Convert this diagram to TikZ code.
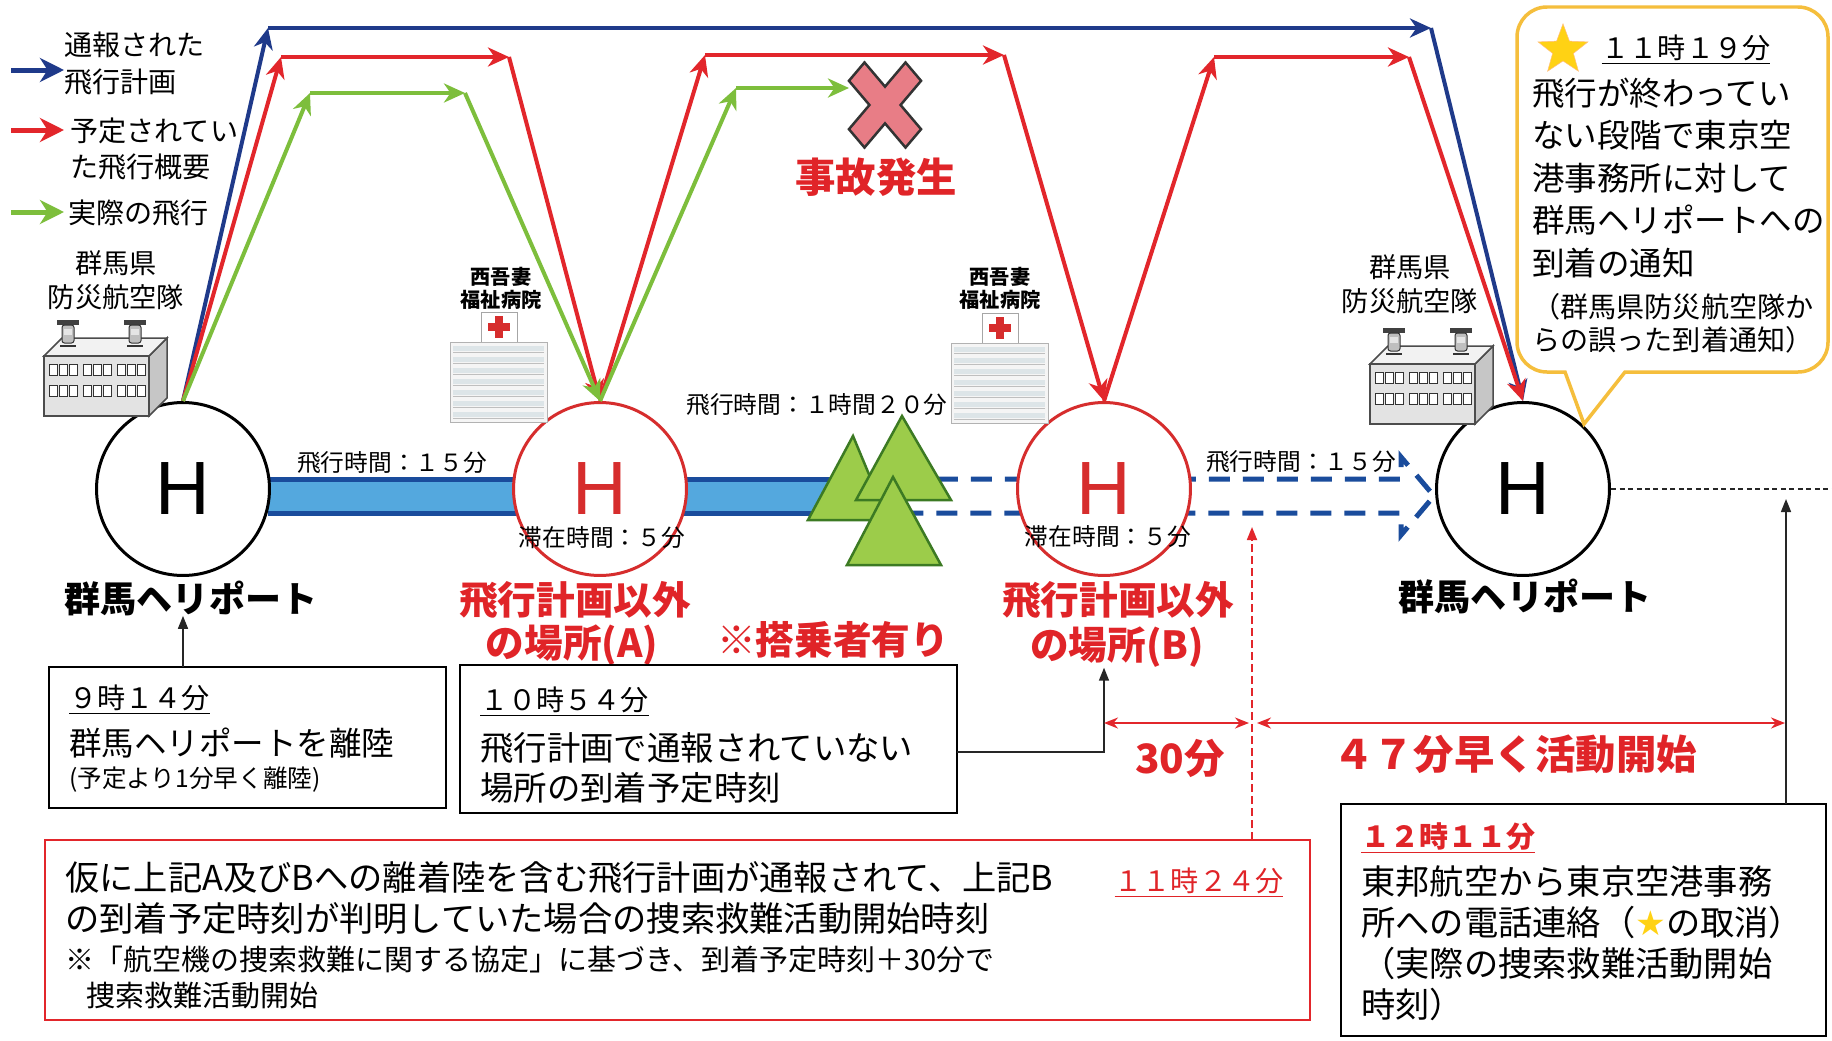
\documentclass[tikz,border=0pt]{standalone}
\usepackage{fontspec}
\setmainfont{Noto Sans CJK JP}
\newfontfamily\hfont{Liberation Sans}
\newfontfamily\symfont{DejaVu Sans}
\usetikzlibrary{arrows.meta,shapes.geometric}

\definecolor{planblue}{RGB}{31,58,138}
\definecolor{schedred}{RGB}{226,38,43}
\definecolor{flowngreen}{RGB}{125,190,60}
\definecolor{bandfill}{RGB}{84,168,222}
\definecolor{bandedge}{RGB}{26,76,156}
\definecolor{treefill}{RGB}{156,204,74}
\definecolor{treeline}{RGB}{60,122,35}
\definecolor{padred}{RGB}{214,45,45}
\definecolor{labelred}{RGB}{224,36,40}
\definecolor{crashpink}{RGB}{232,125,134}
\definecolor{calloutline}{RGB}{245,190,60}
\definecolor{starfill}{RGB}{255,210,20}

\newcommand\fsz[1]{\fontsize{#1}{#1}\selectfont}

\tikzset{
  hq/.pic={
    % side, roof, front
    \draw[black!70, line width=0.03cm, fill=gray!45] (105,0) -- (123,-18) -- (123,42) -- (105,60) -- cycle;
    \draw[black!70, line width=0.03cm, fill=gray!10] (0,0) -- (18,-18) -- (123,-18) -- (105,0) -- cycle;
    \draw[black!70, line width=0.03cm, fill=gray!22] (0,0) rectangle (105,60);
    \foreach \g in {0,1,2}
      \foreach \k in {0,1,2} {
        \draw[black!80, line width=0.02cm, fill=white] (5+\g*34+\k*10,8) rectangle ++(8,11);
        \draw[black!80, line width=0.02cm, fill=white] (5+\g*34+\k*10,29) rectangle ++(8,11);
      }
    % helicopters on the roof
    \foreach \hx in {24,91} {
      \fill[black!75] (\hx-11,-36) rectangle (\hx+11,-31);
      \draw[black!80, line width=0.02cm, fill=gray!50, rounded corners=0.05cm] (\hx-6,-31) rectangle (\hx+6,-13);
      \fill[gray!20] (\hx-4,-27) rectangle (\hx+4,-21);
      \draw[black!80, line width=0.03cm] (\hx-8,-10) -- (\hx+8,-10);
    }
  },
  hospital/.pic={
    \draw[gray!70, line width=0.02cm, fill=white] (31,-30) rectangle (67,0);
    \fill[padred] (45,-26) rectangle (53,-4);
    \fill[padred] (38,-19) rectangle (60,-11);
    \draw[gray!60, line width=0.02cm, fill=gray!8] (0,0) rectangle (97,80);
    \foreach \r in {0,...,6} {
      \fill[cyan!20!gray!25] (3,4+\r*11) rectangle (94,9+\r*11);
      \draw[gray!50, line width=0.01cm] (3,10+\r*11) -- (94,10+\r*11);
    }
  }
}

\begin{document}
\begin{tikzpicture}[x=0.02cm, y=-0.02cm,
  route/.style={line width=0.08cm, -{Stealth[length=0.42cm,width=0.38cm,inset=0.13cm]}},
  plan/.style={route, planblue},
  sched/.style={route, schedred},
  flown/.style={route, flowngreen},
  key/.style={line width=0.1cm, -{Stealth[length=0.48cm,width=0.48cm,inset=0.15cm]}},
  keytxt/.style={font=\fontsize{16}{21}\selectfont, align=left, inner sep=0pt},
  helipad/.style={circle, draw, fill=white, line width=0.06cm, minimum size=3.46cm, inner sep=0pt, font=\hfont\fsz{43}},
  smalltxt/.style={font=\fsz{13.5}, inner sep=0pt},
  sitetxt/.style={font=\fontsize{15.5}{19.5}\selectfont, align=center, inner sep=0pt},
  hosptxt/.style={font=\bfseries\fsz{11.5}, inner sep=0pt},
  padlbl/.style={font=\bfseries\fsz{20.5}, inner sep=0pt},
  placelbl/.style={font=\bfseries\fsz{22}, text=labelred, inner sep=0pt},
  infobox/.style={draw, line width=0.035cm, fill=white, inner sep=0pt, outer sep=0pt, anchor=north west},
  boxtxt/.style={anchor=west, inner sep=0pt, align=left},
  tree/.style={fill=treefill, draw=treeline, line width=0.05cm},
  pointer/.style={black!85, line width=0.03cm, -{Triangle[length=0.26cm,width=0.2cm]}},
  dim/.style={schedred, line width=0.04cm, {Stealth[length=0.28cm,width=0.22cm]}-{Stealth[length=0.28cm,width=0.22cm]}}
]
\fill[white] (0,0) rectangle (1832,1041);
\useasboundingbox (0,0) rectangle (1832,1041);

% band between the pads: flown part solid, remaining part dashed
\coordinate (bandtip) at (1434,496);
\fill[bandfill] (268,481) rectangle (865,511);
\draw[bandedge, line width=0.1cm] (268,479) -- (865,479) (268,513) -- (865,513);
\draw[bandedge, line width=0.1cm, dash pattern=on 0.42cm off 0.26cm]
  (835,479) -- (1401,479) -- (1401,457) -- (bandtip) -- (1401,535) -- (1401,513) -- (835,513);

% trees
\filldraw[tree] (853,436) -- (888,520) -- (808,520) -- cycle;
\filldraw[tree] (902,416) -- (951,500) -- (856,500) -- cycle;
\filldraw[tree] (893,477) -- (941,565) -- (847,565) -- cycle;

% helipads
\node[helipad] (hp1) at (183,489) {H};
\node[helipad, draw=padred, text=padred] (hpA) at (600,489) {H};
\node[helipad, draw=padred, text=padred] (hpB) at (1104,489) {H};
\node[helipad] (hp2) at (1523,489) {H};

% times along the band
\node[smalltxt] (ft1) at (392,463) {飛行時間：１５分};
\node[smalltxt] (st1) at (602,538) {滞在時間：５分};
\node[smalltxt] (ft2) at (817,405) {飛行時間：１時間２０分};
\node[smalltxt] (st2) at (1108,537) {滞在時間：５分};
\node[smalltxt] (ft3) at (1301,462) {飛行時間：１５分};

% route corners
\coordinate (b1) at (268,28);
\coordinate (b2) at (1431,28);
\coordinate (r1) at (281,57);
\coordinate (r2) at (509,57);
\coordinate (r3) at (705,55);
\coordinate (r4) at (1004,55);
\coordinate (r5) at (1214,57);
\coordinate (r6) at (1409,57);
\coordinate (g1) at (310,93);
\coordinate (g2) at (465,93);
\coordinate (g3) at (736,88);
\coordinate (gend) at (849,88);

% reported flight plan
\draw[plan] (hp1.north) -- (b1);
\draw[plan] (b1) -- (b2);
\draw[plan] (b2) -- (hp2.north);

% scheduled flight
\draw[sched] (hp1.north) -- (r1);
\draw[sched] (r1) -- (r2);
\draw[sched] (r2) -- (hpA.north);
\draw[sched] (hpA.north) -- (r3);
\draw[sched] (r3) -- (r4);
\draw[sched] (r4) -- (hpB.north);
\draw[sched] (hpB.north) -- (r5);
\draw[sched] (r5) -- (r6);
\draw[sched] (r6) -- (hp2.north);

% actual flight
\draw[flown] (hp1.north) -- (g1);
\draw[flown] (g1) -- (g2);
\draw[flown] (g2) -- (hpA.north);
\draw[flown] (hpA.north) -- (g3);
\draw[flown] (g3) -- (gend);

% crash mark
\begin{scope}[shift={(885,105)}, yscale=1.18, rotate=45]
  \filldraw[fill=crashpink, draw=black!80, line width=0.05cm]
    (-11,-40) -- (11,-40) -- (11,-11) -- (40,-11) -- (40,11) -- (11,11) -- (11,40)
    -- (-11,40) -- (-11,11) -- (-40,11) -- (-40,-11) -- (-11,-11) -- cycle;
\end{scope}
\node[font=\bfseries\fsz{23}, text=labelred, inner sep=0pt] (crash) at (876,177) {事故発生};

% legend
\node[keytxt, anchor=west] (kplan) at (64,63.5) {通報された\\飛行計画};
\node[keytxt, anchor=west] (ksched) at (70,149) {予定されてい\\た飛行概要};
\node[keytxt, anchor=west] (kflown) at (68,213) {実際の飛行};
\coordinate (k1) at (11,70);
\coordinate (k2) at (11,130);
\coordinate (k3) at (11,212);
\draw[key, planblue] (k1) -- (k1 -| kplan.west);
\draw[key, schedred] (k2) -- (k2 -| kplan.west);
\draw[key, flowngreen] (k3) -- (k3 -| kplan.west);

% air unit buildings and hospitals
\node[sitetxt] (unit1) at (116,280) {群馬県\\防災航空隊};
\pic at (44,356) {hq};
\node[sitetxt] (unit2) at (1410,284) {群馬県\\防災航空隊};
\pic at (1370,364) {hq};
\node[hosptxt] (hospA1) at (501,277) {西吾妻};
\node[hosptxt] (hospA2) at (501,300) {福祉病院};
\pic at (450,342) {hospital};
\node[hosptxt] (hospB1) at (1000,277) {西吾妻};
\node[hosptxt] (hospB2) at (1000,300) {福祉病院};
\pic at (951,343) {hospital};

% place labels
\node[padlbl] (lbl1) at (191,598) {群馬ヘリポート};
\node[padlbl] (lbl2) at (1525,596) {群馬ヘリポート};
\node[placelbl] (lblA1) at (575,600) {飛行計画以外};
\node[placelbl] (lblA2) at (572,645) {の場所(A)};
\node[placelbl] (lblB1) at (1118,600) {飛行計画以外};
\node[placelbl] (lblB2) at (1117,647) {の場所(B)};
\node[placelbl] (crew) at (833,640) {※搭乗者有り};

% take-off box
\node[infobox, minimum width=7.94cm, minimum height=2.82cm] (box1) at (49,667) {};
\node[boxtxt, font=\fsz{16}] (t1a) at (69,700) {\underline{９時１４分}};
\node[boxtxt, font=\fsz{18.5}] (t1b) at (69,743) {群馬ヘリポートを離陸};
\node[boxtxt, font=\fsz{14}] (t1c) at (69,780) {(予定より1分早く離陸)};
\draw[pointer] (hp1 |- box1.north) -- (hp1 |- lbl1.south);

% arrival box
\node[infobox, minimum width=9.94cm, minimum height=2.96cm] (box2) at (460,665) {};
\node[boxtxt, font=\fsz{16}] (t2a) at (480,702) {\underline{１０時５４分}};
\node[boxtxt, font=\fontsize{19}{22.8}\selectfont] (t2b) at (480,768) {飛行計画で通報されていない\\場所の到着予定時刻};
\draw[pointer] ([yshift=-0.26cm]box2.east) -| (hpB |- lblB2.south);

% time differences
\coordinate (d0) at (1104,723);
\coordinate (d1) at (1249,723);
\coordinate (d1b) at (1257,723);
\coordinate (d2) at (1785,723);
\draw[dim] (d0) -- (d1);
\draw[dim] (d1b) -- (d2);
\node[font=\bfseries\fsz{23}, text=labelred, inner sep=0pt] (m30) at (1180,758) {30分};
\node[font=\bfseries\fsz{23}, text=labelred, inner sep=0pt] (m47) at (1515,754) {４７分早く活動開始};

% case where A and B had been reported
\node[infobox, draw=schedred, minimum width=25.3cm, minimum height=3.6cm] (redbox) at (45,840) {};
\node[boxtxt, font=\fontsize{19.5}{22.8}\selectfont] (t3a) at (65,898) {仮に上記A及びBへの離着陸を含む飛行計画が通報されて、上記B\\の到着予定時刻が判明していた場合の捜索救難活動開始時刻};
\node[boxtxt, font=\fontsize{16.5}{20}\selectfont] (t3b) at (65,977.5) {※「航空機の捜索救難に関する協定」に基づき、到着予定時刻＋30分で\\\hspace*{0.42cm}捜索救難活動開始};
\node[font=\fsz{16}, text=labelred, inner sep=0pt] (t1124) at (1199,883) {\underline{１１時２４分}};
\coordinate (tb) at (1252,527);
\draw[schedred, line width=0.035cm, dash pattern=on 0.16cm off 0.08cm, -{Triangle[length=0.26cm,width=0.2cm]}] (redbox.north -| tb) -- (tb);

% actual start of search
\node[infobox, minimum width=9.7cm, minimum height=4.64cm] (box3) at (1341,804) {};
\node[boxtxt, font=\bfseries\fsz{16.5}, text=labelred] (t4a) at (1361,838) {\underline{１２時１１分}};
\node[boxtxt, font=\fontsize{19.5}{23.3}\selectfont] (t4b) at (1361,943) {東邦航空から東京空港事務\\所への電話連絡（{\symfont\textcolor{starfill}{★}}の取消）\\（実際の捜索救難活動開始\\時刻）};
\coordinate (ta) at (1786,499);
\draw[pointer] (box3.north -| ta) -- (ta);
\coordinate (edge) at (1832,489);
\draw[black!85, line width=0.025cm, dash pattern=on 0.1cm off 0.07cm] (hp2.east) -- (edge);

% arrival notice callout
\filldraw[fill=white, draw=calloutline, line width=0.07cm]
  (1584,424) -- (1625,372) {[rounded corners=0.6cm] -- (1828,372) -- (1828,7) -- (1517,7) -- (1517,372)} -- (1565,372) -- cycle;
\node[star, star points=5, star point ratio=2.4, fill=starfill, draw=orange!50, line width=0.01cm, minimum size=1.05cm, inner sep=0pt] (star) at (1563,50) {};
\node[font=\fsz{16}, inner sep=0pt] (t1119) at (1686,50) {\underline{１１時１９分}};
\node[boxtxt, font=\fontsize{18.5}{24.2}\selectfont] (t5a) at (1532,178) {飛行が終わってい\\ない段階で東京空\\港事務所に対して\\群馬ヘリポートへの\\到着の通知};
\node[boxtxt, font=\fontsize{16}{18.8}\selectfont] (t5b) at (1532,323.5) {（群馬県防災航空隊か\\らの誤った到着通知）};
\end{tikzpicture}
\end{document}
